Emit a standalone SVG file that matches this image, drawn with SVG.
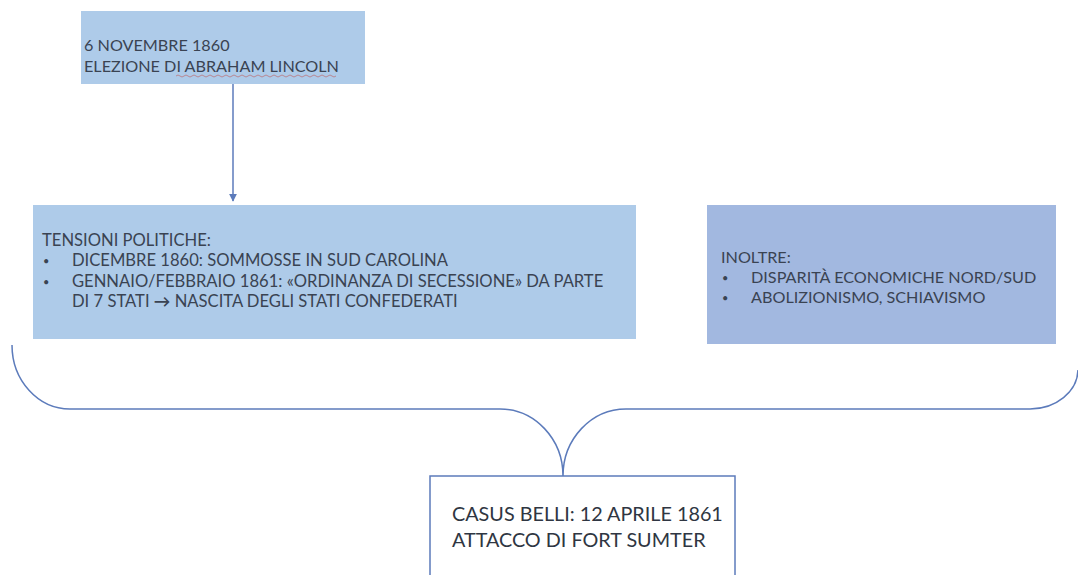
<svg xmlns="http://www.w3.org/2000/svg" width="1078" height="575" viewBox="0 0 1078 575">
<style>
.t{font-family:Lato,"Open Sans","Liberation Sans",sans-serif;fill:#3a4352;font-size:16.2px}
.w{font-size:16.6px}
.big{font-size:19.8px;fill:#2f3642}
.bu{font-size:11px}
.b1{fill:#aecbe9}
.b3{fill:#a2b8e0}
.ln{fill:none;stroke:#5c7bbb;stroke-width:1.5}
</style>
<defs>
<marker id="ah" viewBox="0 0 10 10" refX="9" refY="5" markerWidth="8" markerHeight="8" orient="auto" markerUnits="userSpaceOnUse">
<path d="M0,0 L10,5 L0,10 Z" fill="#5c7bbb"/>
</marker>
</defs>
<rect width="1078" height="575" fill="#ffffff"/>
<g id="connectors">
<line class="ln" x1="233" y1="84" x2="233" y2="201" marker-end="url(#ah)"/>
<path class="ln" d="M12,345 A58,64 0 0 0 70,409 L500,409 A63,67 0 0 1 563,476 A63,67 0 0 1 626,409 L1030,409 A48,40 0 0 0 1078,370"/>
</g>
<g id="n1">
<rect class="b1" x="81" y="11" width="284" height="73"/>
<text class="t" x="84" y="51">6 NOVEMBRE 1860</text>
<text class="t" x="84" y="72">ELEZIONE DI ABRAHAM LINCOLN</text>
<path d="M176,76 q2,-2 4,0 t4,0 t4,0 t4,0 t4,0 t4,0 t4,0 t4,0 t4,0 t4,0 t4,0 t4,0 t4,0 t4,0 t4,0 t4,0 t4,0 t4,0 t4,0 t4,0 t4,0 t4,0 t4,0 t4,0 t4,0 t4,0 t4,0 t4,0 t4,0 t4,0 t4,0 t4,0 t4,0 t4,0 t4,0 t4,0 t4,0 t4,0 t4,0 t4,0" fill="none" stroke="#c0504d" stroke-width="0.8" opacity="0.7"/>
</g>
<g id="n2">
<rect class="b1" x="33" y="205" width="603" height="134"/>
<text class="t w" x="42" y="246">TENSIONI POLITICHE:</text>
<text class="t bu" x="43" y="265">•</text>
<text class="t w" x="72" y="266">DICEMBRE 1860: SOMMOSSE IN SUD CAROLINA</text>
<text class="t bu" x="43" y="286">•</text>
<text class="t w" x="72" y="287">GENNAIO/FEBBRAIO 1861: «ORDINANZA DI SECESSIONE» DA PARTE</text>
<text class="t w" x="72" y="307">DI 7 STATI <tspan font-weight="bold">→</tspan> NASCITA DEGLI STATI CONFEDERATI</text>
</g>
<g id="n3">
<rect class="b3" x="707" y="205" width="349" height="139"/>
<text class="t" x="721" y="263">INOLTRE:</text>
<text class="t bu" x="722" y="282">•</text>
<text class="t" x="751" y="283">DISPARITÀ ECONOMICHE NORD/SUD</text>
<text class="t bu" x="722" y="302">•</text>
<text class="t" x="751" y="303">ABOLIZIONISMO, SCHIAVISMO</text>
</g>
<g id="n4">
<rect x="430" y="476" width="305" height="110" fill="#ffffff" stroke="#5c7bbb" stroke-width="1.5"/>
<text class="t big" x="452" y="521">CASUS BELLI: 12 APRILE 1861</text>
<text class="t big" x="452" y="547">ATTACCO DI FORT SUMTER</text>
</g>
</svg>
